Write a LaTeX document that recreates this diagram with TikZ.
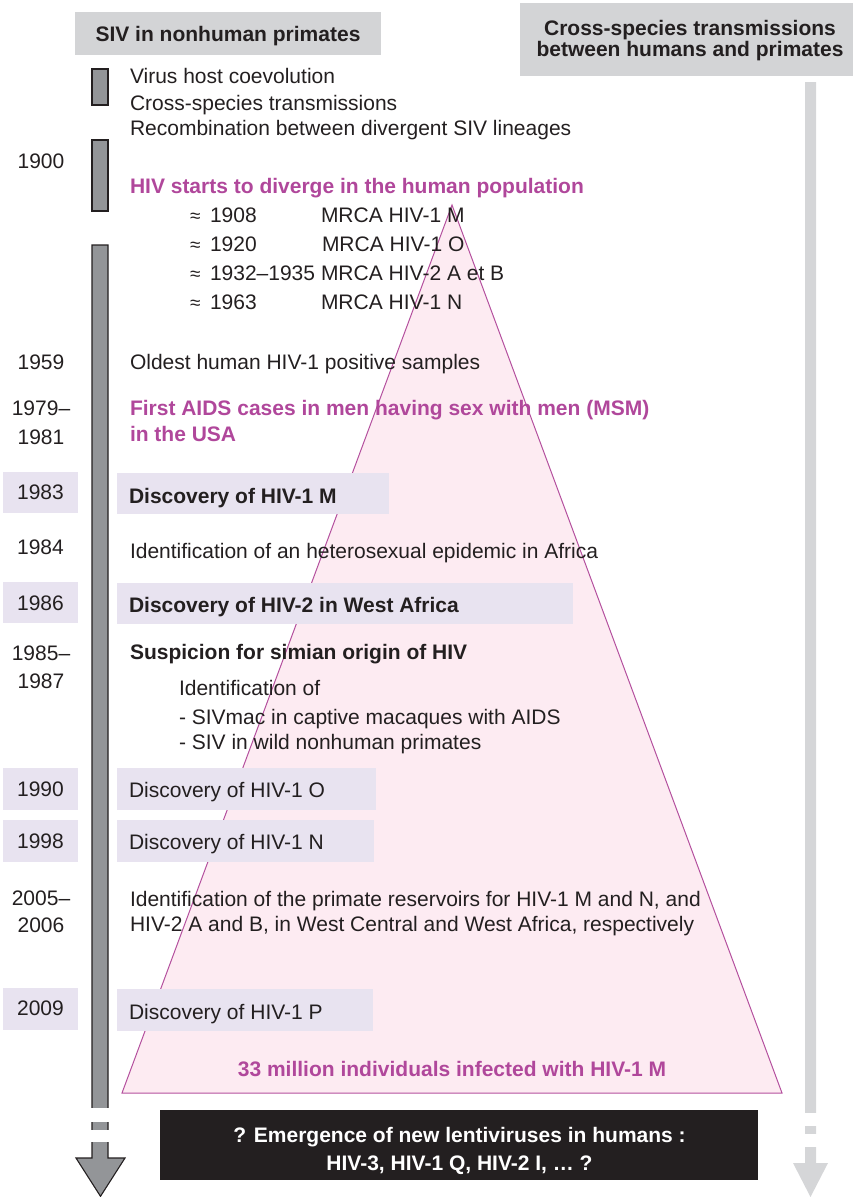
\documentclass[tikz,border=0pt]{standalone}
\usepackage{fontspec}
\setmainfont{Liberation Sans}
\definecolor{ink}{HTML}{231F20}
\definecolor{hdrgrey}{HTML}{D3D4D6}
\definecolor{barL}{HTML}{939598}
\definecolor{barR}{HTML}{D5D6D8}
\definecolor{lav}{HTML}{E8E3F0}
\definecolor{pinkfill}{HTML}{FDEBF2}
\definecolor{magline}{HTML}{B4509E}
\definecolor{magtext}{HTML}{B0479B}
\newcommand{\approxsym}{\makebox[20pt][l]{\fontsize{19}{22}\selectfont ≈}}
\tikzset{
  basefont/.style={font=\fontsize{21}{25}\selectfont},
  boldfont/.style={font=\fontsize{21}{25}\selectfont\bfseries},
  txt/.style={anchor=base west, basefont},
  btxt/.style={anchor=base west, boldfont},
  mtxt/.style={anchor=base west, boldfont, text=magtext},
  yr/.style={anchor=base, basefont},
  hdrtext/.style={anchor=base, boldfont},
  lavbox/.style={fill=lav},
  hdrbox/.style={fill=hdrgrey},
  leftbar/.style={fill=barL, draw=ink, line width=1.1pt},
  rightbar/.style={fill=barR},
}
\begin{document}
\begin{tikzpicture}[x=1pt,y=-1pt, every node/.style={inner sep=0pt, outer sep=0pt, text=ink}]
\useasboundingbox (0,0) rectangle (853,1197);

% headers
\fill[hdrbox] (75,12) rectangle (381,55);
\node[hdrtext] (h1) at (228,41) {SIV in nonhuman primates};
\fill[hdrbox] (520,3) rectangle (853,76);
\node[hdrtext] (h2a) at (690,35) {Cross-species transmissions};
\node[hdrtext] (h2b) at (690,56) {between humans and primates};

% triangle
\filldraw[fill=pinkfill, draw=magline, line width=1pt] (452,205) -- (782,1093) -- (122,1093) -- cycle;

% right arrow
\fill[rightbar] (805,82) -- (816,82) -- (816,1163) -- (828,1163) -- (810.5,1197) -- (793,1163) -- (805,1163) -- cycle;
\fill[white] (800,1113) rectangle (821,1126);
\fill[white] (800,1134) rectangle (821,1147);

% left arrow
\filldraw[leftbar] (92,69) rectangle (108,105);
\filldraw[leftbar] (92,140) rectangle (108,211);
\filldraw[leftbar] (92,245) -- (108,245) -- (108,1158) -- (125,1158) -- (100.5,1196.3) -- (76,1158) -- (92,1158) -- cycle;
\fill[white] (88,1108) rectangle (112,1122);
\fill[white] (88,1130) rectangle (112,1142);

% lavender boxes
\fill[lavbox] (3,472) rectangle (78,513);
\fill[lavbox] (117,473) rectangle (389,514);
\fill[lavbox] (3,582) rectangle (78,623);
\fill[lavbox] (117,583) rectangle (573,624);
\fill[lavbox] (3,768) rectangle (78,810);
\fill[lavbox] (117,768) rectangle (376,810);
\fill[lavbox] (3,820) rectangle (78,862);
\fill[lavbox] (117,820) rectangle (374,862);
\fill[lavbox] (3,988) rectangle (78,1030);
\fill[lavbox] (117,989) rectangle (373,1031);

% top texts
\node[txt] (t1) at (130,83) {Virus host coevolution};
\node[txt] (t2) at (130,110) {Cross-species transmissions};
\node[txt] (t3) at (130,135) {Recombination between divergent SIV lineages};
\node[yr] (y1900) at (41,168) {1900};
\node[mtxt] (t4) at (130,193) {HIV starts to diverge in the human population};
\node[txt] (a1) at (190,222.5) {\approxsym 1908};
\node[txt] (m1) at (321,222.5) {MRCA HIV-1 M};
\node[txt] (a2) at (190,251.5) {\approxsym 1920};
\node[txt] (m2) at (322,251.5) {MRCA HIV-1 O};
\node[txt] (a3) at (190,280.5) {\approxsym 1932--1935};
\node[txt] (m3) at (321,280.5) {MRCA HIV-2 A et B};
\node[txt] (a4) at (190,309.5) {\approxsym 1963};
\node[txt] (m4) at (321,309.5) {MRCA HIV-1 N};

% 1959
\node[yr] (y1959) at (41,369) {1959};
\node[txt] (t5) at (130,369) {Oldest human HIV-1 positive samples};
% 1979-1981
\node[yr] (y1979) at (41,415.5) {1979--};
\node[yr] (y1981) at (41,444) {1981};
\node[mtxt] (t6) at (130,415.5) {First AIDS cases in men having sex with men (MSM)};
\node[mtxt] (t7) at (130,441.5) {in the USA};
% 1983
\node[yr] (y1983) at (40.5,499) {1983};
\node[btxt] (t8) at (129,503) {Discovery of HIV-1 M};
% 1984
\node[yr] (y1984) at (40.5,554) {1984};
\node[txt] (t9) at (130,558) {Identification of an heterosexual epidemic in Africa};
% 1986
\node[yr] (y1986) at (40.5,610) {1986};
\node[btxt] (t10) at (129,612) {Discovery of HIV-2 in West Africa};
% 1985-1987
\node[yr] (y1985) at (41,660) {1985--};
\node[yr] (y1987) at (41,688) {1987};
\node[btxt] (t11) at (130,659.5) {Suspicion for simian origin of HIV};
\node[txt] (t12) at (179,695.5) {Identification of};
\node[txt] (t13) at (179,724.5) {- SIVmac in captive macaques with AIDS};
\node[txt] (t14) at (179,749.5) {- SIV in wild nonhuman primates};
% 1990
\node[yr] (y1990) at (40.5,796) {1990};
\node[txt] (t15) at (129,797.5) {Discovery of HIV-1 O};
% 1998
\node[yr] (y1998) at (40.5,848) {1998};
\node[txt] (t16) at (129,849) {Discovery of HIV-1 N};
% 2005-2006
\node[yr] (y2005) at (41,905.5) {2005--};
\node[yr] (y2006) at (41,932.5) {2006};
\node[txt] (t17) at (130,906.5) {Identification of the primate reservoirs for HIV-1 M and N, and};
\node[txt] (t18) at (130,931.5) {HIV-2 A and B, in West Central and West Africa, respectively};
% 2009
\node[yr] (y2009) at (40.5,1015) {2009};
\node[txt] (t19) at (129,1019) {Discovery of HIV-1 P};

% triangle base text
\node[anchor=base, boldfont, text=magtext] (t20) at (452,1076.5) {33 million individuals infected with HIV-1 M};

% black box
\fill[ink] (160,1110) rectangle (758,1180);
\node[anchor=base, boldfont, text=white] (b1) at (459.5,1142.5) {? Emergence of new lentiviruses in humans :};
\node[anchor=base, boldfont, text=white] (b2) at (459.5,1170.5) {HIV-3, HIV-1 Q, HIV-2 I, \dots\ ?};
\end{tikzpicture}
\end{document}
